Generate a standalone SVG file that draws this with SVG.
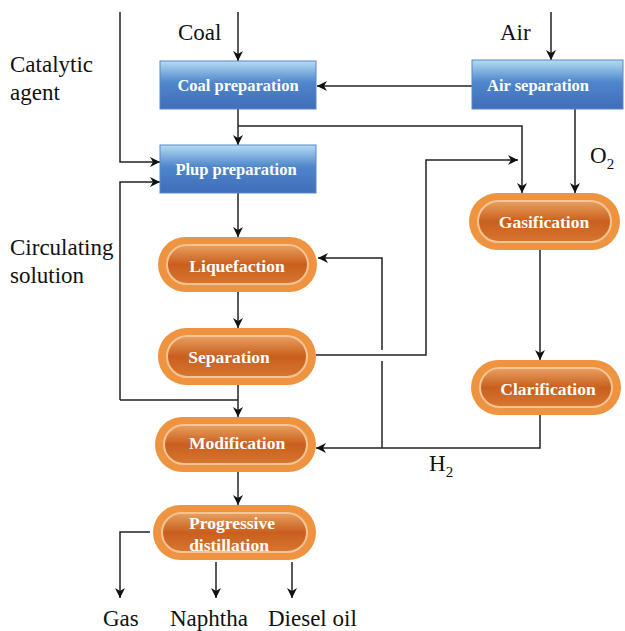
<svg xmlns="http://www.w3.org/2000/svg" width="625" height="631" viewBox="0 0 625 631">
<defs>
<linearGradient id="blue" x1="0" y1="0" x2="0" y2="1">
<stop offset="0" stop-color="#B5DDF2"/>
<stop offset="0.45" stop-color="#4F86CC"/>
<stop offset="1" stop-color="#3F6DBA"/>
</linearGradient>
<linearGradient id="orange" x1="0" y1="0" x2="0" y2="1">
<stop offset="0" stop-color="#E9A05F"/>
<stop offset="0.5" stop-color="#C95F1E"/>
<stop offset="1" stop-color="#D87630"/>
</linearGradient>
<marker id="arr" markerWidth="10" markerHeight="10" viewBox="0 0 10 10" refX="10" refY="5" orient="auto" markerUnits="userSpaceOnUse">
<path d="M0,0 L10,5 L0,10 L3,5 Z" fill="#111"/>
</marker>
</defs>
<style>
text{font-family:'Liberation Serif','Times New Roman',Times,serif}
.lbl{font-size:23px;fill:#111}
.sub{font-size:15px}
.nt{font-size:16.5px;font-weight:bold;fill:#fff;text-anchor:middle}
.pt{font-size:17.5px}
.box{fill:url(#blue);stroke:#5A86C8;stroke-width:1}
.pill{fill:#EE9340}
.pin{fill:url(#orange);stroke:#F5C597;stroke-width:2}
.c{fill:none;stroke:#222;stroke-width:1.5}
.ca{fill:none;stroke:#222;stroke-width:1.5;marker-end:url(#arr)}
</style>
<rect width="625" height="631" fill="#fff"/>

<g id="labels">
<text class="lbl" x="178" y="40">Coal</text>
<text class="lbl" x="500" y="40">Air</text>
<text class="lbl" x="10" y="72">Catalytic</text>
<text class="lbl" x="10" y="100">agent</text>
<text class="lbl" x="10" y="255">Circulating</text>
<text class="lbl" x="10" y="283">solution</text>
<text class="lbl" x="590" y="163">O<tspan class="sub" dy="6">2</tspan></text>
<text class="lbl" x="429" y="471">H<tspan class="sub" dy="6">2</tspan></text>
<text class="lbl" x="103" y="626">Gas</text>
<text class="lbl" x="170" y="626">Naphtha</text>
<text class="lbl" x="268" y="626">Diesel oil</text>
</g>

<g id="connectors">
<line class="ca" x1="238" y1="12" x2="238" y2="61"/>
<line class="ca" x1="551" y1="12" x2="551" y2="60"/>
<line class="ca" x1="472" y1="86" x2="317" y2="86"/>
<line class="ca" x1="238" y1="109" x2="238" y2="145"/>
<polyline class="ca" points="238,126 522,126 522,193"/>
<line class="ca" x1="575" y1="109" x2="575" y2="193"/>
<polyline class="ca" points="120,12 120,162 160,162"/>
<polyline class="ca" points="120,400 120,182 160,182"/>
<line class="c" x1="120" y1="400" x2="238" y2="400"/>
<line class="ca" x1="238" y1="193" x2="238" y2="237"/>
<line class="ca" x1="238" y1="292" x2="238" y2="328"/>
<line class="ca" x1="238" y1="385" x2="238" y2="417"/>
<line class="ca" x1="238" y1="472" x2="238" y2="505"/>
<polyline class="ca" points="316,355 426,355 426,160 518,160"/>
<polyline class="ca" points="382,350 382,258 318,258"/>
<line class="c" x1="382" y1="361" x2="382" y2="448"/>
<polyline class="ca" points="540,415 540,448 316,448"/>
<line class="ca" x1="540" y1="250" x2="540" y2="360"/>
<polyline class="ca" points="150,532 120,532 120,598"/>
<line class="ca" x1="216" y1="562" x2="216" y2="598"/>
<line class="ca" x1="292" y1="562" x2="292" y2="598"/>
</g>

<g id="coal-preparation">
<rect class="box" x="160" y="61" width="156" height="48"/>
<text class="nt" x="238" y="91">Coal preparation</text>
</g>
<g id="air-separation">
<rect class="box" x="472" y="60" width="151" height="49"/>
<text class="nt" x="538" y="91">Air separation</text>
</g>
<g id="plup-preparation">
<rect class="box" x="160" y="145" width="156" height="48"/>
<text class="nt" x="236" y="175">Plup preparation</text>
</g>
<g id="gasification">
<rect class="pill" x="469" y="193" width="151" height="57" rx="28.5"/>
<rect class="pin" x="478" y="201" width="133" height="41" rx="20.5"/>
<text class="nt pt" x="544" y="228">Gasification</text>
</g>
<g id="liquefaction">
<rect class="pill" x="158" y="237" width="159" height="55" rx="27.5"/>
<rect class="pin" x="167" y="245" width="141" height="39" rx="19.5"/>
<text class="nt pt" x="237" y="272">Liquefaction</text>
</g>
<g id="separation">
<rect class="pill" x="158" y="328" width="158" height="57" rx="28.5"/>
<rect class="pin" x="167" y="336" width="140" height="41" rx="20.5"/>
<text class="nt pt" x="229" y="363">Separation</text>
</g>
<g id="clarification">
<rect class="pill" x="471" y="360" width="150" height="55" rx="27.5"/>
<rect class="pin" x="480" y="368" width="132" height="39" rx="19.5"/>
<text class="nt pt" x="548" y="395">Clarification</text>
</g>
<g id="modification">
<rect class="pill" x="155" y="417" width="161" height="55" rx="27.5"/>
<rect class="pin" x="164" y="425" width="143" height="39" rx="19.5"/>
<text class="nt pt" x="237" y="449">Modification</text>
</g>
<g id="progressive-distillation">
<rect class="pill" x="153" y="505" width="163" height="55" rx="27.5"/>
<rect class="pin" x="162" y="513" width="145" height="39" rx="19.5"/>
<text class="nt pt" x="232" y="529">Progressive</text>
<text class="nt pt" x="229" y="551">distillation</text>
</g>
</svg>
